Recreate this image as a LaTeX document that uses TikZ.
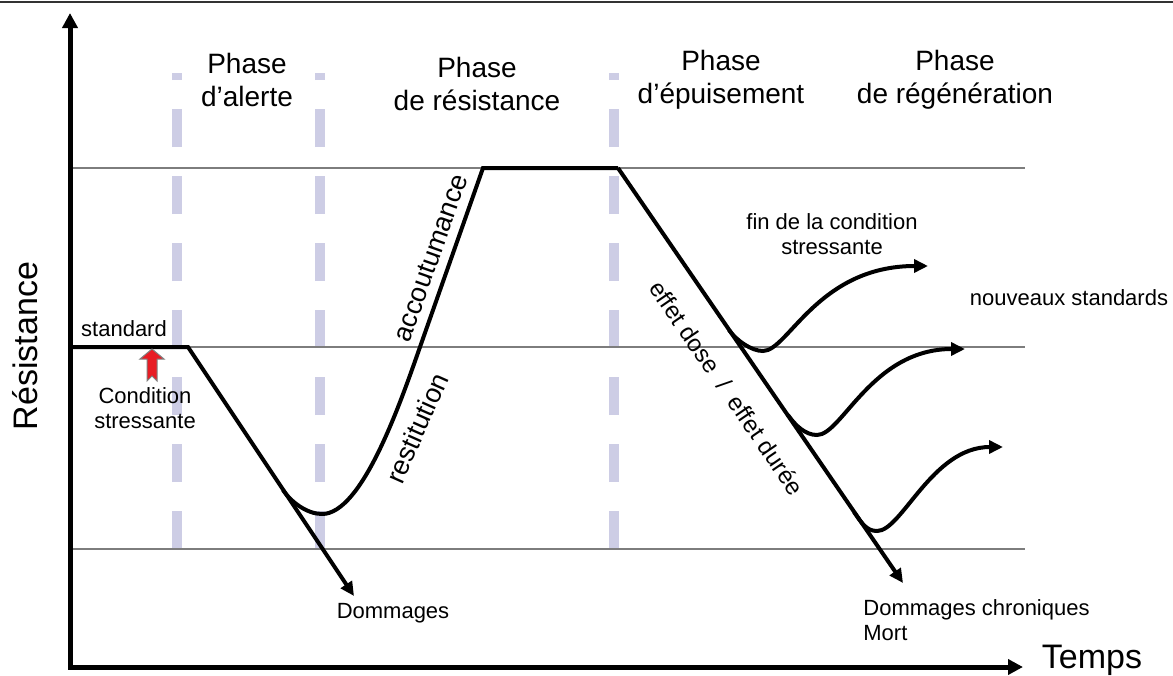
\documentclass[tikz,border=0pt]{standalone}
\usepackage{fontspec}
\setmainfont{Liberation Sans}
\usetikzlibrary{arrows.meta,positioning}

\definecolor{phaselavender}{RGB}{205,205,229}
\definecolor{guidegray}{RGB}{125,125,125}
\definecolor{alertred}{RGB}{232,28,36}

\tikzset{
    phasesep/.style={phaselavender, line width=5pt, dash pattern=on 19pt off 14.5pt},
    guide/.style={guidegray, line width=1pt},
    axisline/.style={line width=2.5pt, {Triangle[length=7.5pt,width=7.5pt]}-{Triangle[length=7.5pt,width=7.5pt]}},
    stresscurve/.style={line width=2pt},
    stressarrow/.style={stresscurve, -{Triangle[length=7pt,width=6.5pt]}},
    phaselbl/.style={align=center, font=\fontsize{14}{16.5}\selectfont},
    smalllbl/.style={align=center, font=\fontsize{11}{12.5}\selectfont},
    biglbl/.style={font=\fontsize{17}{20}\selectfont},
    slopelbl/.style={font=\fontsize{13.5}{15}\selectfont},
}

\begin{document}
\begin{tikzpicture}[x=0.5pt, y=-0.5pt]
    \useasboundingbox (0,0) rectangle (1173,675);
    \draw[black!80, line width=1pt] (0,2) -- (1173,2);

    % phase separators
    \foreach \sx in {177,320,614}
        \draw[phasesep] (\sx,549) -- (\sx,73);

    % reference levels
    \foreach \ly in {168,347,549}
        \draw[guide] (70,\ly) -- (1025,\ly);

    % axes
    \coordinate (origin) at (70,667);
    \coordinate (ytip) at (70,13);
    \coordinate (xtip) at (1023,667);
    \draw[axisline] (ytip) -- (origin) -- (xtip);
    \node[biglbl] (temps) at (1092,660) {Temps};
    \node[biglbl, rotate=90] (resist) at (25,346) {Résistance};

    % phases
    \node[phaselbl] (alerte) at (247,80) {Phase\\d’alerte};
    \node[phaselbl] (resistance) at (477,84) {Phase\\de résistance};
    \node[phaselbl] (epuis) at (721,80) {Phase\\d’épuisement};
    \node[phaselbl] (regen) at (955,80) {Phase\\de régénération};

    % main curve
    \coordinate (std0) at (70,347);
    \coordinate (std1) at (188,347);
    \coordinate (dmg) at (354,596);
    \coordinate (leave) at (283,490);
    \coordinate (trough) at (322,514);
    \coordinate (mid) at (420,347);
    \coordinate (plat0) at (483,168);
    \coordinate (plat1) at (618,168);
    \coordinate (chron) at (903,583);

    \draw[stressarrow] (std0) -- (std1) -- (dmg);
    \draw[stresscurve] (leave) .. controls (291,502) and (307,514) .. (trough)
        .. controls (362,514) and (400,404) .. (mid) -- (plat0) -- (plat1);
    \draw[stressarrow] (plat1) -- (chron);

    % recovery branches
    \coordinate (b1a) at (729,330); \coordinate (b1m) at (763,351); \coordinate (b1e) at (928,266);
    \coordinate (b2a) at (788,415); \coordinate (b2m) at (817,435); \coordinate (b2e) at (965,349);
    \coordinate (b3a) at (854,512); \coordinate (b3m) at (877,531); \coordinate (b3e) at (1003,447);
    \draw[stressarrow] (b1a) .. controls (736,340) and (751,351) .. (b1m)
        .. controls (788,351) and (818,266) .. (b1e);
    \draw[stressarrow] (b2a) .. controls (795,425) and (805,435) .. (b2m)
        .. controls (842,435) and (872,349) .. (b2e);
    \draw[stressarrow] (b3a) .. controls (861,522) and (866,531) .. (b3m)
        .. controls (902,531) and (932,447) .. (b3e);

    % stress trigger
    \draw[gray, fill=alertred, line width=0.5pt] (152,349) -- (164,359) -- (157,359) -- (157,381)
        -- (152,376) -- (147,381) -- (147,359) -- (140,359) -- cycle;

    % labels
    \node[smalllbl] (standard) at (124,329) {standard};
    \node[smalllbl] (cond) at (145,408) {Condition\\stressante};
    \node[smalllbl] (dommages) at (393,613) {Dommages};
    \node[smalllbl, align=left, anchor=north west, inner sep=0pt] (chronlbl) at (863,599) {Dommages chroniques\\Mort};
    \node[smalllbl] (fin) at (832,234) {fin de la condition\\stressante};
    \node[smalllbl] (nouveaux) at (1069,298) {nouveaux standards};
    \node[slopelbl, rotate=70.6] (accout) at (431,258) {accoutumance};
    \node[slopelbl, rotate=66] (restit) at (417,428) {restitution};
    \node[font=\fontsize{12}{14}\selectfont, rotate=-55.5] (effet) at (727,388) {effet dose \ / \ effet durée};
\end{tikzpicture}
\end{document}
